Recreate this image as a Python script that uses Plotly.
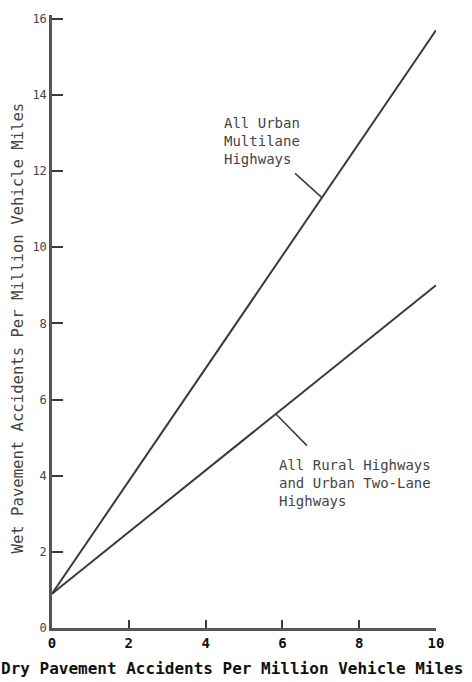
import plotly.graph_objects as go
import numpy as np

# Dry vs wet pavement accident rates (per million vehicle miles)
dry_rate = [0, 10]
wet_urban_multilane = [0.9, 15.7]
wet_rural_two_lane = [0.9, 9.0]

x_ticks = [0, 2, 4, 6, 8, 10]
y_ticks = [0, 2, 4, 6, 8, 10, 12, 14, 16]

urban_label = "All Urban<br>Multilane<br>Highways"
rural_label = "All Rural Highways<br>and Urban Two-Lane<br>Highways"

INK = "#3a3a3a"
MONO = "DejaVu Sans Mono, Liberation Mono, monospace"

fig = go.Figure()
for ys in (wet_urban_multilane, wet_rural_two_lane):
    fig.add_trace(go.Scatter(x=dry_rate, y=ys, mode="lines",
                             line=dict(color=INK, width=2), showlegend=False,
                             hoverinfo="skip"))

# leader lines from each label to its curve
def on_line(ys, x):
    return float(np.interp(x, dry_rate, ys))

leaders = [((6.33, 11.94), 7.03, wet_urban_multilane),
           ((6.64, 4.79), 5.83, wet_rural_two_lane)]
for (x0, y0), x1, ys in leaders:
    fig.add_shape(type="line", xref="x", yref="y", x0=x0, y0=y0,
                  x1=x1, y1=on_line(ys, x1), line=dict(color=INK, width=1.5))

fig.add_annotation(x=4.43, y=12.78, text=urban_label, showarrow=False,
                   xanchor="left", yanchor="middle", align="left",
                   font=dict(family=MONO, size=14, color="#444"))
fig.add_annotation(x=5.86, y=3.82, text=rural_label, showarrow=False,
                   xanchor="left", yanchor="middle", align="left",
                   font=dict(family=MONO, size=14, color="#444"))

# axis titles
fig.add_annotation(xref="paper", yref="paper", x=0.47, y=-0.066,
                   text="<b>Dry Pavement Accidents Per Million Vehicle Miles</b>",
                   showarrow=False, xanchor="center", yanchor="middle",
                   font=dict(family=MONO, size=16, color="#111"))
fig.add_annotation(xref="paper", yref="paper", x=-0.088, y=0.489,
                   text="Wet Pavement Accidents Per Million Vehicle Miles",
                   showarrow=False, textangle=-90, xanchor="center", yanchor="middle",
                   font=dict(family=MONO, size=15.6, color="#444"))

fig.update_xaxes(range=[0, 10], tickvals=x_ticks,
                 ticktext=[f"<b>{v}</b>" for v in x_ticks],
                 ticks="inside", ticklen=8, tickwidth=1.5, tickcolor=INK,
                 showline=True, linecolor="#555", linewidth=2.5,
                 showgrid=False, zeroline=False,
                 tickfont=dict(family=MONO, size=14, color="#111"))
fig.update_yaxes(range=[0, 16.1], tickvals=y_ticks,
                 ticks="inside", ticklen=11, tickwidth=1.5, tickcolor=INK,
                 showline=True, linecolor="#555", linewidth=2.5,
                 showgrid=False, zeroline=False,
                 tickfont=dict(family=MONO, size=12, color="#444"))

fig.update_layout(width=472, height=682,
                  margin=dict(l=52, r=36, t=15, b=54),
                  paper_bgcolor="white", plot_bgcolor="white")

fig.write_html("out.html")
